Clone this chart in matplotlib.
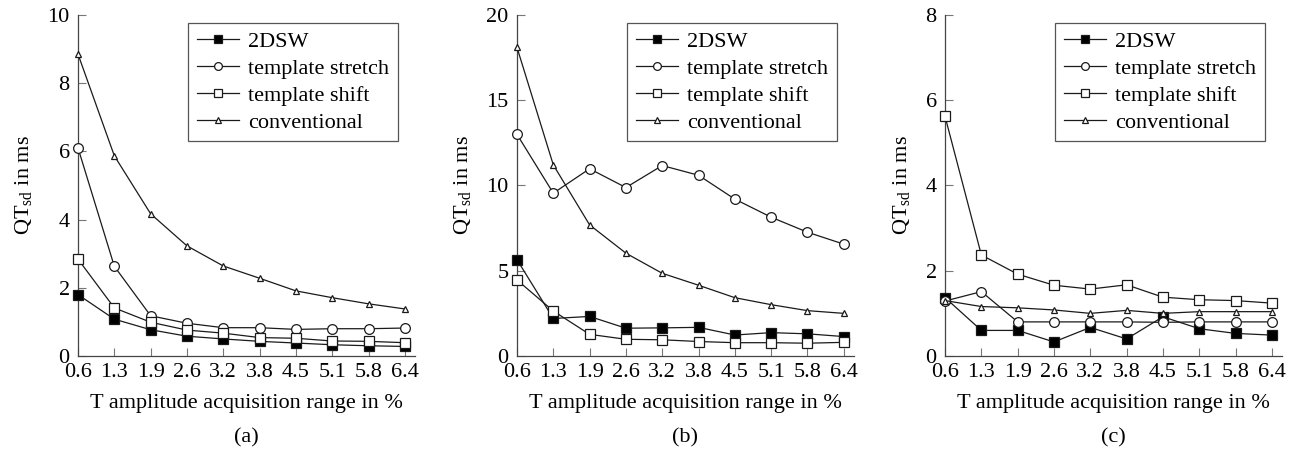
import numpy as np
import matplotlib
matplotlib.use("Agg")
import matplotlib.pyplot as plt

plt.rcParams['font.family'] = ['Liberation Serif', 'DejaVu Serif']
plt.rcParams['mathtext.fontset'] = 'custom'
plt.rcParams['mathtext.rm'] = 'Liberation Serif'
plt.rcParams['font.size'] = 16

# x categories (T amplitude acquisition range in %)
ranges = ["0.6", "1.3", "1.9", "2.6", "3.2", "3.8", "4.5", "5.1", "5.8", "6.4"]
names = ["2DSW", "template stretch", "template shift", "conventional"]

# panel (a)
a_2dsw = [1.8, 1.08, 0.77, 0.58, 0.5, 0.43, 0.38, 0.33, 0.3, 0.28]
a_stretch = [6.1, 2.63, 1.18, 0.96, 0.83, 0.83, 0.78, 0.8, 0.8, 0.82]
a_shift = [2.84, 1.41, 0.99, 0.76, 0.67, 0.54, 0.52, 0.44, 0.43, 0.39]
a_conv = [8.85, 5.87, 4.17, 3.23, 2.64, 2.28, 1.91, 1.71, 1.53, 1.38]

# panel (b)
b_2dsw = [5.65, 2.2, 2.32, 1.63, 1.65, 1.68, 1.23, 1.37, 1.3, 1.14]
b_stretch = [13.0, 9.55, 10.98, 9.88, 11.17, 10.6, 9.2, 8.14, 7.26, 6.56]
b_shift = [4.46, 2.64, 1.27, 0.98, 0.95, 0.85, 0.78, 0.78, 0.75, 0.8]
b_conv = [18.1, 11.21, 7.69, 6.03, 4.85, 4.15, 3.42, 3.01, 2.66, 2.5]

# panel (c)
c_2dsw = [1.37, 0.6, 0.6, 0.33, 0.67, 0.4, 0.92, 0.64, 0.53, 0.49]
c_stretch = [1.29, 1.51, 0.8, 0.8, 0.8, 0.8, 0.79, 0.8, 0.8, 0.8]
c_shift = [5.62, 2.37, 1.92, 1.66, 1.57, 1.67, 1.38, 1.32, 1.3, 1.24]
c_conv = [1.3, 1.16, 1.13, 1.08, 1.0, 1.07, 1.0, 1.04, 1.04, 1.04]

panels = [
    ("(a)", [a_2dsw, a_stretch, a_shift, a_conv], 10, 2),
    ("(b)", [b_2dsw, b_stretch, b_shift, b_conv], 20, 5),
    ("(c)", [c_2dsw, c_stretch, c_shift, c_conv], 8, 2),
]

styles = [
    dict(marker='s', mfc='black', ms=6.5),
    dict(marker='o', mfc='white', ms=7),
    dict(marker='s', mfc='white', ms=7),
    dict(marker='^', mfc='white', ms=5),
]

lefts = [0.0602, 0.3989, 0.7292]
x = np.arange(len(ranges))
col = '#1a1a1a'
fs = 16

fig = plt.figure(figsize=(12.96, 4.5), dpi=100)
for left, (tag, series, ymax, ystep) in zip(lefts, panels):
    ax = fig.add_axes([left, 0.2089, 0.26, 0.7578])
    for vals, name, st in zip(series, names, styles):
        ax.plot(x, vals, color=col, lw=0.9, mec=col, mew=0.9, label=name,
                clip_on=False, zorder=3, **st)
    ax.set_xlim(0, 9.28)
    ax.set_ylim(0, ymax)
    ax.set_xticks(x)
    ax.set_xticklabels(ranges)
    ax.set_yticks(np.arange(0, ymax + 0.1, ystep))
    for s in ['top', 'right']:
        ax.spines[s].set_visible(False)
    for s in ['left', 'bottom']:
        ax.spines[s].set_color('#444444')
        ax.spines[s].set_linewidth(0.9)
    ax.tick_params(direction='in', length=6, width=0.8, color='#777777',
                   labelsize=fs)
    ax.tick_params(axis='x', pad=5)
    ax.tick_params(axis='y', pad=6)
    ax.set_ylabel(r'$\mathrm{QT}_{\mathrm{sd}}$ in ms', fontsize=fs, labelpad=9)
    ax.set_xlabel('T amplitude acquisition range in %', fontsize=fs, labelpad=9)
    ax.text(0.5, -0.24, tag, transform=ax.transAxes, ha='center', va='center',
            fontsize=fs)
    leg = ax.legend(loc='upper right', bbox_to_anchor=(0.95, 0.977),
                    borderaxespad=0, fancybox=False, edgecolor='#555555',
                    framealpha=1, fontsize=fs, handlelength=1.9,
                    handletextpad=0.4, labelspacing=0.28, borderpad=0.4,
                    markerscale=0.8)
    leg.get_frame().set_linewidth(0.9)

fig.savefig('out.png', dpi=100)
